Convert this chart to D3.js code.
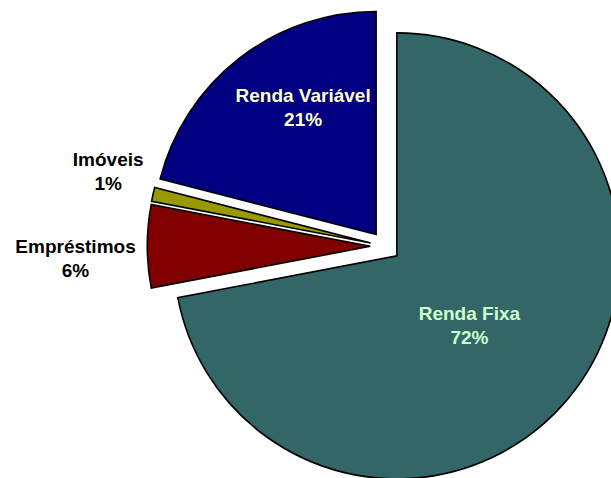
<!DOCTYPE html>
<html>

<head>
    <meta charset="utf-8">
    <style>
        body {
            margin: 0;
            background: white;
        }

        .label {
            font-family: 'Liberation Sans', Arial, sans-serif;
            font-weight: bold;
            font-size: 19px;
        }
    </style>
</head>

<body>
    <svg width="611" height="478"></svg>

    <script src="https://d3js.org/d3.v7.min.js"></script>
    <script>
        // data
        let categories = ["Renda Fixa", "Empréstimos", "Imóveis", "Renda Variável"]
        let shares = [72, 6, 1, 21]
        let pctLabels = ["72%", "6%", "1%", "21%"]

        let colors = ["#336666", "#800000", "#999900", "#000080"]
        let textColors = ["#ccffcc", "#000000", "#000000", "#ffffcc"]

        // where each label sits: [distance from pie center, angle in degrees clockwise from top]
        let labelSpots = [[115, 133], [310, 267.8], [287, 285.1], [162, 329.5]]

        let width = 611
        let height = 478
        let cx = 385.3
        let cy = 246.3
        let radius = 223
        let explode = 15

        let svg = d3.select("svg")

        let rows = categories.map((c, i) => ({ name: c, value: shares[i], pct: pctLabels[i], i: i }))

        let pie = d3.pie()
            .sort(null)
            .value(d => d.value)
            .startAngle(0)
            .endAngle(2 * Math.PI)

        let arc = d3.arc()
            .innerRadius(0)
            .outerRadius(radius)

        let g = svg.append("g")
            .attr("transform", "translate(" + cx + "," + cy + ")")

        g.selectAll(".slice")
            .data(pie(rows))
            .join("path")
            .attr("class", "slice")
            .attr("d", arc)
            .attr("transform", d => {
                let mid = (d.startAngle + d.endAngle) / 2
                let dx = Math.sin(mid) * explode
                let dy = -Math.cos(mid) * explode
                return "translate(" + dx + "," + dy + ")"
            })
            .style("fill", d => colors[d.data.i])
            .style("stroke", "black")
            .style("stroke-width", 1.6)
            .style("stroke-linejoin", "miter")

        // labels, two lines each
        let lineGap = 24
        let cap = 13.6

        let labels = g.selectAll(".label")
            .data(rows)
            .join("text")
            .attr("class", "label")
            .attr("text-anchor", "middle")
            .style("fill", d => textColors[d.i])
            .attr("transform", d => {
                let r = labelSpots[d.i][0]
                let a = labelSpots[d.i][1] * Math.PI / 180
                return "translate(" + (Math.sin(a) * r) + "," + (-Math.cos(a) * r) + ")"
            })

        labels.append("tspan")
            .attr("x", 0)
            .attr("y", -(cap + lineGap) / 2 + cap)
            .text(d => d.name)

        labels.append("tspan")
            .attr("x", 0)
            .attr("y", (cap + lineGap) / 2)
            .text(d => d.pct)
    </script>
</body>

</html>
